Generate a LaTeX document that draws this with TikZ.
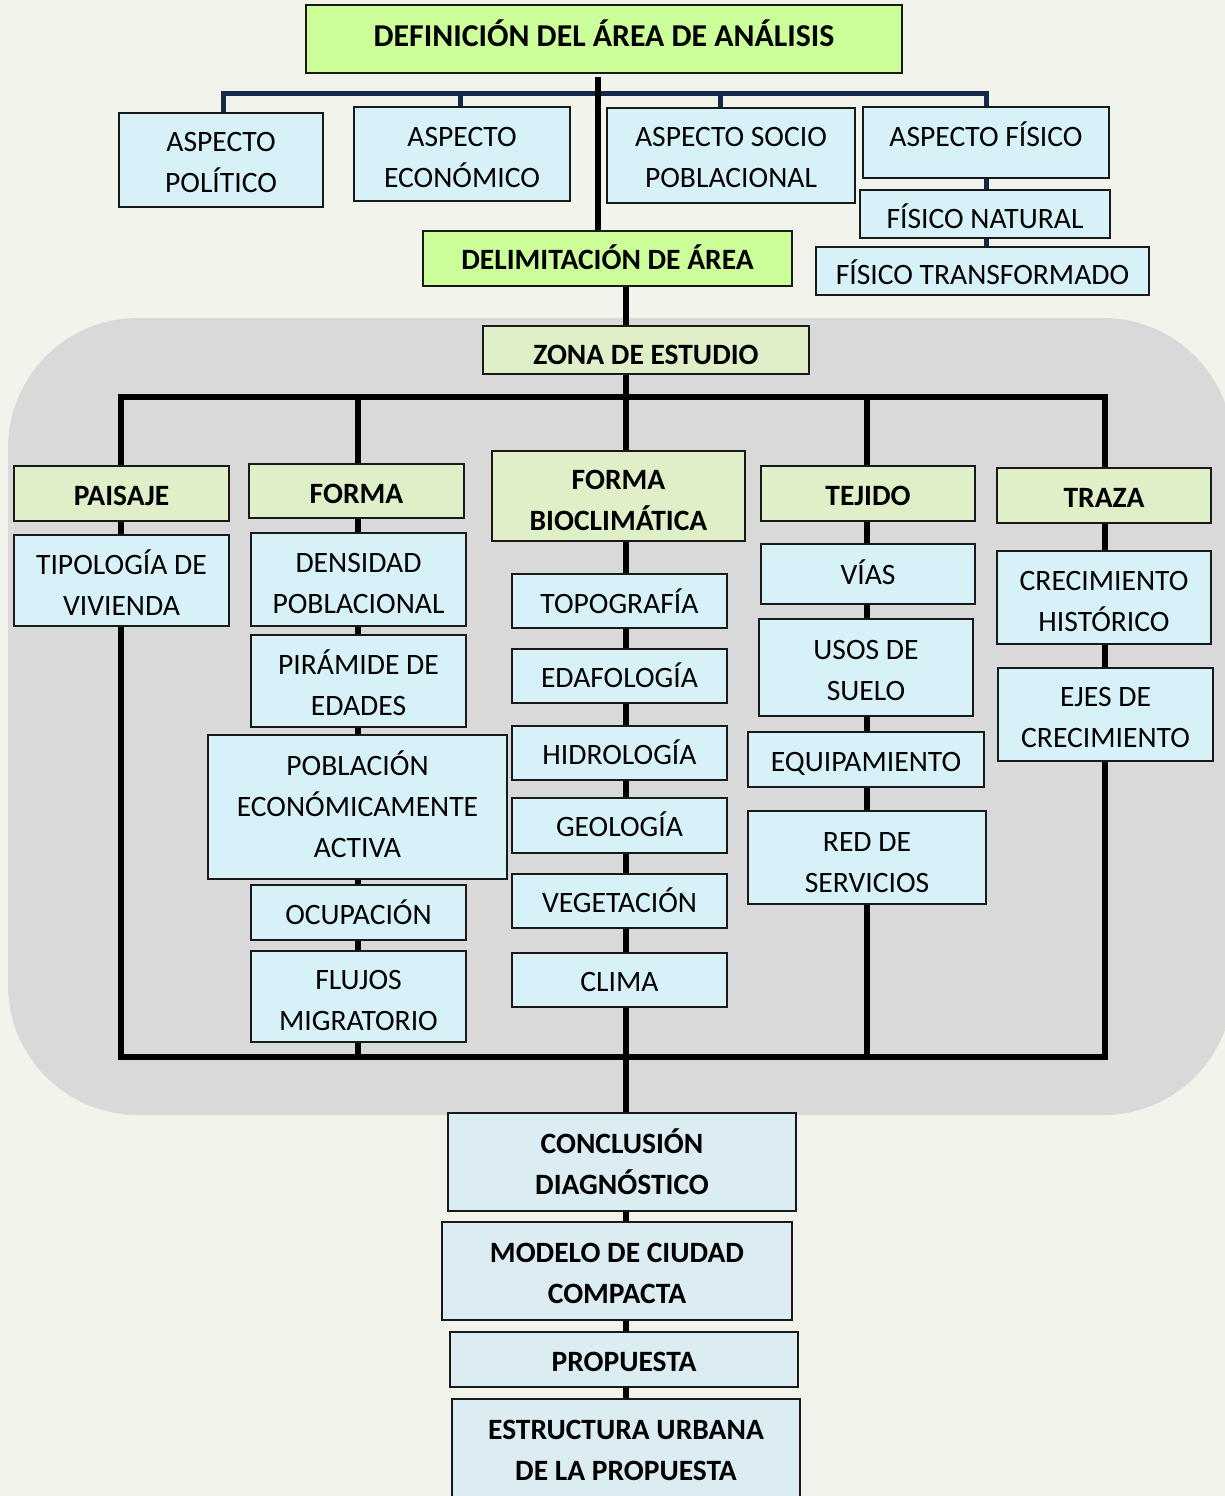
\documentclass[tikz,border=0pt]{standalone}
\usepackage{fontspec}
\setmainfont{Carlito}
\definecolor{bgc}{HTML}{F2F4EC}
\definecolor{panel}{HTML}{D9D9D9}
\definecolor{gbright}{HTML}{CCFF99}
\definecolor{gpale}{HTML}{DFF0C8}
\definecolor{cyanb}{HTML}{D6F1F8}
\definecolor{bluegr}{HTML}{DBEDF3}
\definecolor{navyc}{HTML}{17294A}
\newcommand\cl[1]{\smash{#1}\rule{0pt}{0.632em}}
\newcommand\rg{\fontsize{29.6}{41}\selectfont}
\newcommand\bd{\fontsize{29.5}{41}\selectfont\bfseries}
\newcommand\bdt{\fontsize{31.8}{41}\selectfont\bfseries}
% name, fill, font, x1, y1, x2, y2, text y, text
\newcommand\bx[9]{%
  \node[boxbase, fill=#2, minimum width={(#6)-(#4)}, minimum height={(#7)-(#5)}] (#1) at ({((#4)+(#6))/2},{((#5)+(#7))/2}) {};
  \node[lbl, font=#3] (#1t) at ({((#4)+(#6))/2},#8) {#9};}
\tikzset{
  boxbase/.style={draw=black!90, line width=1.8pt, inner sep=0pt, rectangle},
  lbl/.style={inner sep=0pt, align=center, text=black},
  blk/.style={draw=black, line width=6pt},
  nav/.style={draw=navyc, line width=5pt},
}
\begin{document}
\begin{tikzpicture}[x=1pt, y=-1pt]
\useasboundingbox (0,0) rectangle (1225,1496);
\clip (0,0) rectangle (1225,1496);
\fill[bgc] (0,0) rectangle (1225,1496);
\fill[panel, rounded corners=130pt] (8,318) rectangle (1233,1115);

% coordinates
\coordinate (m) at (626,0);
\coordinate (c1) at (121,0);
\coordinate (c2) at (358,0);
\coordinate (c4) at (867,0);
\coordinate (c5) at (1105,0);
\coordinate (tx) at (598,0);
\coordinate (px) at (223,0);
\coordinate (ex) at (460,0);
\coordinate (sx) at (720,0);
\coordinate (nv) at (598,93);
\coordinate (hz) at (626,397);
\coordinate (bl) at (626,1057);

% top part
\bx{def}{gbright}{\bdt}{306}{5}{902}{73}{36.5}{\cl{DEFINICIÓN DEL ÁREA DE ANÁLISIS}}
\bx{pol}{cyanb}{\rg}{119}{113}{323}{207}{163}{\cl{ASPECTO}\\\cl{POLÍTICO}}
\bx{eco}{cyanb}{\rg}{354}{107}{570}{201}{157.5}{\cl{ASPECTO}\\\cl{ECONÓMICO}}
\bx{soc}{cyanb}{\rg}{607}{108}{855}{203}{158}{\cl{ASPECTO SOCIO}\\\cl{POBLACIONAL}}
\bx{fis}{cyanb}{\rg}{863}{107}{1109}{178}{137}{\cl{ASPECTO FÍSICO}}
\bx{nat}{cyanb}{\rg}{860}{190}{1110}{238}{219}{\cl{FÍSICO NATURAL}}
\bx{trf}{cyanb}{\rg}{816}{247}{1149}{295}{275.5}{\cl{FÍSICO TRANSFORMADO}}
\bx{del}{gbright}{\bd}{423}{231}{792}{286}{260.5}{\cl{DELIMITACIÓN DE ÁREA}}
\bx{zon}{gpale}{\bd}{483}{326}{809}{374}{355}{\cl{ZONA DE ESTUDIO}}

% column 1
\bx{pai}{gpale}{\bd}{14}{466}{229}{521}{496}{\cl{PAISAJE}}
\bx{tip}{cyanb}{\rg}{14}{535}{229}{626}{585.5}{\cl{TIPOLOGÍA DE}\\\cl{VIVIENDA}}
% column 2
\bx{frm}{gpale}{\bd}{249}{464}{464}{518}{494}{\cl{FORMA}}
\bx{den}{cyanb}{\rg}{251}{533}{466}{626}{584}{\cl{DENSIDAD}\\\cl{POBLACIONAL}}
\bx{pir}{cyanb}{\rg}{251}{635}{466}{727}{685.5}{\cl{PIRÁMIDE DE}\\\cl{EDADES}}
\bx{pob}{cyanb}{\rg}{208}{735}{507}{879}{807}{\cl{POBLACIÓN}\\\cl{ECONÓMICAMENTE}\\\cl{ACTIVA}}
\bx{ocu}{cyanb}{\rg}{251}{885}{466}{940}{915.5}{\cl{OCUPACIÓN}}
\bx{flu}{cyanb}{\rg}{251}{951}{466}{1042}{1001}{\cl{FLUJOS}\\\cl{MIGRATORIO}}
% column 3
\bx{fb}{gpale}{\bd}{492}{451}{745}{541}{501}{\cl{FORMA}\\\cl{BIOCLIMÁTICA}}
\bx{top}{cyanb}{\rg}{512}{574}{727}{628}{604}{\cl{TOPOGRAFÍA}}
\bx{eda}{cyanb}{\rg}{512}{649}{727}{703}{678.5}{\cl{EDAFOLOGÍA}}
\bx{hid}{cyanb}{\rg}{512}{726}{727}{780}{755}{\cl{HIDROLOGÍA}}
\bx{geo}{cyanb}{\rg}{512}{798}{727}{853}{827}{\cl{GEOLOGÍA}}
\bx{veg}{cyanb}{\rg}{512}{874}{727}{928}{903.5}{\cl{VEGETACIÓN}}
\bx{cli}{cyanb}{\rg}{512}{953}{727}{1007}{982.5}{\cl{CLIMA}}
% column 4
\bx{tej}{gpale}{\bd}{761}{466}{975}{521}{496}{\cl{TEJIDO}}
\bx{via}{cyanb}{\rg}{761}{544}{975}{604}{575}{\cl{VÍAS}}
\bx{uso}{cyanb}{\rg}{759}{619}{973}{716}{670.5}{\cl{USOS DE}\\\cl{SUELO}}
\bx{equ}{cyanb}{\rg}{748}{732}{984}{787}{762}{\cl{EQUIPAMIENTO}}
\bx{red}{cyanb}{\rg}{748}{811}{986}{904}{863}{\cl{RED DE}\\\cl{SERVICIOS}}
% column 5
\bx{trz}{gpale}{\bd}{997}{468}{1211}{523}{498}{\cl{TRAZA}}
\bx{cre}{cyanb}{\rg}{997}{551}{1211}{644}{601.5}{\cl{CRECIMIENTO}\\\cl{HISTÓRICO}}
\bx{eje}{cyanb}{\rg}{998}{668}{1213}{761}{717.5}{\cl{EJES DE}\\\cl{CRECIMIENTO}}
% bottom
\bx{con}{bluegr}{\bd}{448}{1113}{796}{1211}{1164.5}{\cl{CONCLUSIÓN}\\\cl{DIAGNÓSTICO}}
\bx{mod}{bluegr}{\bd}{442}{1222}{792}{1320}{1273.5}{\cl{MODELO DE CIUDAD}\\\cl{COMPACTA}}
\bx{pro}{bluegr}{\bd}{450}{1332}{798}{1387}{1362.5}{\cl{PROPUESTA}}
\bx{est}{bluegr}{\bd}{452}{1399}{800}{1530}{1450.5}{\cl{ESTRUCTURA URBANA}\\\cl{DE LA PROPUESTA}}

% navy connectors
\draw[nav] (pol.north -| px) |- (nv) -| (fis.north);
\draw[nav] (eco.north -| ex) -- (nv -| ex);
\draw[nav] (soc.north -| sx) -- (nv -| sx);
\draw[nav] (fis.south) -- (nat.north -| fis.south);
\draw[nav] (nat.south -| fis.south) -- (trf.north -| fis.south);

% black connectors
\draw[blk, shorten <=3pt] (def.south -| tx) -- (del.north -| tx);
\draw[blk] (del.south -| m) -- (zon.north -| m);
\draw[blk] (zon.south -| m) -- (fb.north -| m);
\draw[blk] (pai.north -| c1) |- (hz) -| (trz.north -| c5);
\draw[blk] (frm.north -| c2) -- (hz -| c2);
\draw[blk] (tej.north -| c4) -- (hz -| c4);
% column 1 and bottom bar
\draw[blk] (pai.south -| c1) -- (tip.north -| c1);
\draw[blk] (tip.south -| c1) |- (bl) -| (eje.south -| c5);
% column 2
\draw[blk] (frm.south -| c2) -- (den.north -| c2);
\draw[blk] (den.south -| c2) -- (pir.north -| c2);
\draw[blk] (pir.south -| c2) -- (pob.north -| c2);
\draw[blk] (pob.south -| c2) -- (ocu.north -| c2);
\draw[blk] (ocu.south -| c2) -- (flu.north -| c2);
\draw[blk] (flu.south -| c2) -- (bl -| c2);
% column 3
\draw[blk] (fb.south -| m) -- (top.north -| m);
\draw[blk] (top.south -| m) -- (eda.north -| m);
\draw[blk] (eda.south -| m) -- (hid.north -| m);
\draw[blk] (hid.south -| m) -- (geo.north -| m);
\draw[blk] (geo.south -| m) -- (veg.north -| m);
\draw[blk] (veg.south -| m) -- (cli.north -| m);
\draw[blk] (cli.south -| m) -- (con.north -| m);
\draw[blk] (con.south -| m) -- (mod.north -| m);
\draw[blk] (mod.south -| m) -- (pro.north -| m);
\draw[blk] (pro.south -| m) -- (est.north -| m);
% column 4
\draw[blk] (tej.south -| c4) -- (via.north -| c4);
\draw[blk] (via.south -| c4) -- (uso.north -| c4);
\draw[blk] (uso.south -| c4) -- (equ.north -| c4);
\draw[blk] (equ.south -| c4) -- (red.north -| c4);
\draw[blk] (red.south -| c4) -- (bl -| c4);
% column 5
\draw[blk] (trz.south -| c5) -- (cre.north -| c5);
\draw[blk] (cre.south -| c5) -- (eje.north -| c5);
\end{tikzpicture}
\end{document}
